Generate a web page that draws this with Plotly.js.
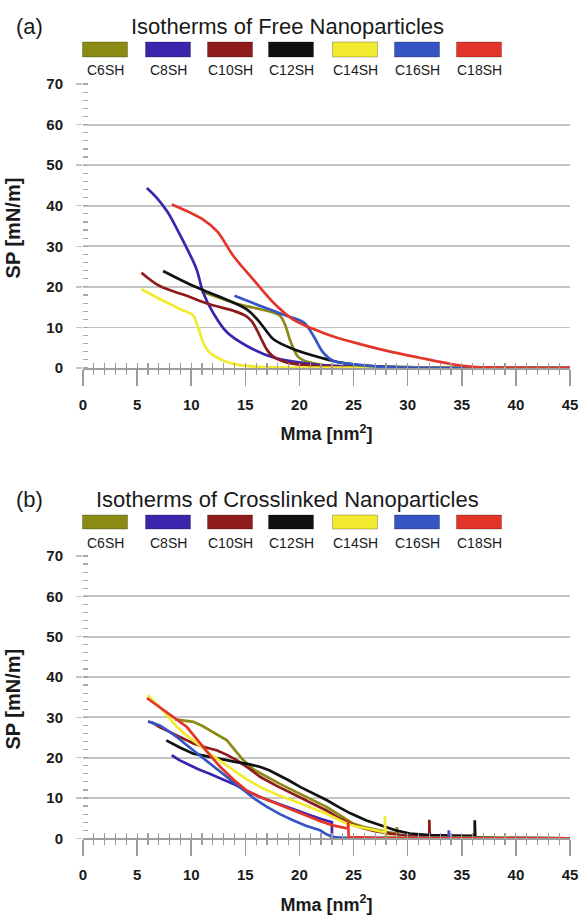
<!DOCTYPE html>
<html>
<head>
<meta charset="utf-8">
<script src="https://cdn.plot.ly/plotly-3.0.1.min.js"></script>
<style>html,body{margin:0;padding:0;background:#fff;}#chart{width:583px;height:919px;}</style>
</head>
<body>
<div id="chart"></div>
<script>
// ---------- DATA ----------
const seriesNames = ["C6SH", "C8SH", "C10SH", "C12SH", "C14SH", "C16SH", "C18SH"];
const seriesColors = ["#8a8a14", "#3b24ae", "#8e1c1c", "#111111", "#f2ea2e", "#3555c4", "#e4352b"];
const xTickVals = [0, 5, 10, 15, 20, 25, 30, 35, 40, 45];
const yTickVals = [0, 10, 20, 30, 40, 50, 60, 70];
const yGridVals = [10, 20, 30, 40, 50, 60];

// (a) Free nanoparticles
const freeC6x  = [11.0, 12.5, 13.9, 15.2, 16.4, 17.4, 18.2, 18.7, 19.1, 19.5, 19.8, 20.3, 20.9, 22, 24, 30, 45];
const freeC6y  = [18.8, 17.4, 16.1, 15.2, 14.5, 13.8, 12.9, 10.5, 7.1, 4.5, 3.0, 2.0, 1.4, 0.8, 0.4, 0.1, 0];
const freeC8x  = [5.9, 6.8, 7.8, 8.7, 9.6, 10.5, 11.1, 12.0, 13.3, 15.1, 17.6, 20.0, 22, 25, 30, 45];
const freeC8y  = [44.4, 42.0, 38.5, 34.2, 29.5, 24.3, 18.6, 13.7, 8.8, 5.5, 2.6, 1.4, 0.7, 0.3, 0.1, 0];
const freeC10x = [5.4, 7.1, 9.6, 11.7, 13.9, 15.0, 15.6, 16.1, 16.5, 17.0, 17.5, 18.8, 20.7, 23, 28, 45];
const freeC10y = [23.5, 20.2, 17.8, 15.7, 14.1, 12.9, 11.5, 9.2, 7.0, 4.5, 3.0, 1.4, 0.7, 0.3, 0.1, 0];
const freeC12x = [7.4, 10.2, 12.4, 15.1, 16.1, 16.9, 17.6, 19.4, 21.9, 24.1, 26, 30, 45];
const freeC12y = [23.9, 20.2, 17.8, 14.5, 12.0, 9.3, 7.1, 4.7, 2.6, 1.2, 0.6, 0.2, 0];
const freeC14x = [5.4, 7.1, 9.0, 10.2, 10.5, 10.7, 11.1, 11.7, 13.0, 14.5, 16.4, 20, 45];
const freeC14y = [19.4, 17.0, 14.5, 12.9, 11.0, 9.6, 6.3, 3.8, 1.8, 0.7, 0.3, 0.1, 0];
const freeC16x = [14.0, 16.4, 18.8, 20.4, 21.3, 22.2, 23.1, 24.7, 27, 30, 45];
const freeC16y = [17.8, 15.3, 12.9, 11.2, 7.9, 3.8, 1.8, 1.0, 0.4, 0.1, 0];
const freeC18x = [8.2, 11.1, 12.4, 13.9, 15.7, 17.6, 19.4, 21.3, 23.4, 25.6, 28, 31, 34, 36, 38, 45];
const freeC18y = [40.3, 36.6, 33.7, 27.6, 21.9, 16.1, 12.0, 9.6, 7.5, 5.9, 4.3, 2.6, 1.0, 0.3, 0.1, 0];

// (b) Crosslinked nanoparticles
const crossC6x  = [8.5, 9.3, 10.2, 11.0, 11.7, 12.5, 13.3, 14.0, 14.8, 15.8, 17.0, 18.2, 19.4, 21.0, 22.5, 23.8, 25.0, 26.0, 27.0, 28.0, 29.0, 29.0, 29.05, 30, 31, 45];
const crossC6y  = [29.5, 29.3, 28.9, 27.9, 26.8, 25.7, 24.3, 22.0, 19.4, 17.0, 15.2, 13.5, 11.9, 9.8, 7.8, 5.6, 3.6, 2.8, 2.2, 1.6, 1.2, 2.8, 0.6, 0.4, 0.2, 0];
const crossC8x  = [8.2, 8.9, 9.6, 10.6, 11.7, 12.8, 13.9, 15.1, 16.4, 17.6, 18.8, 19.9, 21.0, 22.0, 23.0, 23.0, 25, 45];
const crossC8y  = [20.6, 19.4, 18.5, 17.2, 16.0, 14.8, 13.5, 11.8, 10.2, 9.0, 7.8, 6.7, 5.7, 4.8, 4.0, 0, 0, 0];
const crossC10x = [6.3, 7.1, 8.0, 9.1, 10.2, 11.3, 12.4, 13.3, 14.2, 15.3, 16.4, 17.9, 19.4, 21.0, 22.5, 23.6, 24.7, 25.8, 27, 28.5, 30, 32, 32, 32.05, 35, 45];
const crossC10y = [28.9, 27.5, 26.4, 24.9, 23.5, 22.6, 21.8, 20.7, 19.4, 17.4, 15.2, 13.0, 11.0, 8.9, 6.9, 5.1, 3.6, 2.6, 1.8, 1.1, 0.6, 0.3, 4.6, 0.3, 0.1, 0];
const crossC12x = [7.7, 8.9, 10.2, 11.3, 12.4, 13.3, 14.2, 15.3, 16.4, 17.2, 17.9, 19.0, 20.1, 21.3, 22.5, 23.6, 24.7, 26.2, 27.8, 29.0, 30.2, 32, 34, 36.2, 36.2, 36.25, 38, 45];
const crossC12y = [24.3, 22.6, 21.0, 20.4, 19.8, 19.3, 18.9, 18.4, 17.7, 16.9, 16.0, 14.4, 12.7, 11.1, 9.5, 7.8, 6.2, 4.4, 2.9, 1.9, 1.2, 0.8, 0.7, 0.6, 4.5, 0.3, 0.1, 0];
const crossC14x = [6.0, 6.5, 7.1, 7.9, 8.7, 9.4, 10.2, 11.0, 11.7, 12.8, 13.9, 15.1, 16.4, 17.9, 19.4, 21.0, 22.5, 23.5, 24.4, 25.2, 26, 27.0, 27.9, 27.9, 27.95, 30, 45];
const crossC14y = [35.5, 34.0, 32.6, 30.0, 27.6, 25.9, 24.3, 22.6, 21.0, 18.9, 16.9, 14.7, 12.7, 10.9, 9.4, 7.7, 6.1, 4.8, 3.6, 3.0, 2.6, 2.0, 1.5, 5.5, 0.5, 0.2, 0];
const crossC16x = [6.0, 6.5, 7.1, 7.9, 8.7, 9.4, 10.2, 11.0, 11.7, 12.5, 13.3, 14.0, 14.8, 15.9, 17.0, 18.2, 19.4, 20.6, 21.9, 22.5, 23.1, 24, 26, 33.8, 33.8, 33.85, 36, 45];
const crossC16y = [29.0, 28.6, 28.0, 26.6, 25.1, 23.5, 21.8, 20.1, 18.5, 16.8, 15.2, 13.5, 11.9, 9.7, 7.8, 6.0, 4.5, 3.1, 2.0, 1.0, 0.3, 0.15, 0.1, 0.1, 2.0, 0.1, 0.05, 0];
const crossC18x = [5.9, 6.9, 8.0, 8.8, 9.6, 10.3, 11.1, 11.9, 12.7, 13.9, 15.1, 16.5, 17.9, 19.4, 21.0, 22.0, 23.1, 24.5, 24.5, 24.55, 27, 45];
const crossC18y = [34.8, 32.9, 30.9, 29.2, 27.6, 25.2, 22.7, 20.1, 17.7, 14.6, 11.9, 10.1, 8.6, 6.9, 5.3, 4.2, 3.2, 2.4, 4.5, 0.3, 0.1, 0];

const freeX  = [freeC6x, freeC8x, freeC10x, freeC12x, freeC14x, freeC16x, freeC18x];
const freeY  = [freeC6y, freeC8y, freeC10y, freeC12y, freeC14y, freeC16y, freeC18y];
const crossX = [crossC6x, crossC8x, crossC10x, crossC12x, crossC14x, crossC16x, crossC18x];
const crossY = [crossC6y, crossC8y, crossC10y, crossC12y, crossC14y, crossC16y, crossC18y];

// ---------- LAYOUT HELPERS ----------
const W = 583, H = 919;
const fx = p => p / W;
const fy = p => 1 - p / H;
const FONT = "Liberation Sans, Arial, Helvetica, sans-serif";
const AXC = "#9c9c9c";

const traces = [];
freeX.forEach((xs, i) => traces.push({
  x: xs, y: freeY[i], name: seriesNames[i], xaxis: "x", yaxis: "y", mode: "lines",
  line: {color: seriesColors[i], width: 2.7, shape: "spline", smoothing: 1}, showlegend: false
}));
crossX.forEach((xs, i) => traces.push({
  x: xs, y: crossY[i], name: seriesNames[i], xaxis: "x2", yaxis: "y2", mode: "lines",
  line: {color: seriesColors[i], width: 2.7, shape: "linear"}, showlegend: false
}));
// empty helper traces that only carry the overlay axes (grid lines / crossing ticks)
traces.push({x: [], y: [], xaxis: "x3", yaxis: "y3", showlegend: false, hoverinfo: "skip"});
traces.push({x: [], y: [], xaxis: "x4", yaxis: "y4", showlegend: false, hoverinfo: "skip"});

function mainX(posPx) {
  return {
    domain: [fx(83), fx(570)], range: [0, 45], autorange: false,
    anchor: "free", position: fy(posPx),
    tickvals: xTickVals, ticks: "outside", ticklen: 16, tickwidth: 1.5, tickcolor: AXC,
    showline: true, linecolor: AXC, linewidth: 1.5, showgrid: false, zeroline: false,
    minor: {dtick: 1, ticks: "outside", ticklen: 5, tickwidth: 1.2, tickcolor: AXC, showgrid: false},
    tickfont: {family: FONT, size: 15, color: "#1a1a1a", weight: "bold"},
    ticklabelstandoff: 6,
    title: {text: "Mma [nm<sup>2</sup>]", font: {family: FONT, size: 18, color: "#1a1a1a", weight: "bold"}, standoff: 16}
  };
}
function overlayX(over, posPx) {
  return {
    overlaying: over, range: [0, 45], autorange: false, anchor: "free", position: fy(posPx),
    dtick: 1, tick0: 0, ticks: "inside", ticklen: 5, tickwidth: 1.2, tickcolor: AXC,
    showticklabels: false, showgrid: false, zeroline: false, showline: false
  };
}
function mainY(domPx, anchor) {
  return {
    domain: [fy(domPx[1]), fy(domPx[0])], range: [-1.5, 70.5], autorange: false, anchor: anchor,
    tickvals: yTickVals, ticks: "outside", ticklen: 6, tickwidth: 1.5, tickcolor: "#c4c4c4",
    showgrid: false, zeroline: false, showline: false,
    minor: {dtick: 2, tick0: 0, ticks: "inside", ticklen: 5, tickwidth: 1.2, tickcolor: "#a8a8a8", showgrid: false},
    tickfont: {family: FONT, size: 15, color: "#1a1a1a", weight: "bold"},
    ticklabelstandoff: 10,
    title: {text: "SP [mN/m]", font: {family: FONT, size: 20, color: "#1a1a1a", weight: "bold"}, standoff: 20}
  };
}
function overlayY(over, anchor) {
  return {
    overlaying: over, anchor: anchor, range: [-1.5, 70.5], autorange: false,
    tickvals: yGridVals, ticks: "", showticklabels: false,
    showgrid: true, gridcolor: "#c4c4c4", gridwidth: 1.8, zeroline: false, showline: false
  };
}

const layout = {
  width: W, height: H, autosize: false,
  margin: {l: 0, r: 0, t: 0, b: 0, pad: 0},
  paper_bgcolor: "#ffffff", plot_bgcolor: "rgba(0,0,0,0)",
  font: {family: FONT, color: "#1a1a1a"},
  showlegend: false,
  xaxis: mainX(368),
  yaxis: mainY([82.0, 374.1], "x"),
  xaxis2: mainX(838.3),
  yaxis2: mainY([554.0, 844.4], "x2"),
  xaxis3: overlayX("x", 368),
  yaxis3: overlayY("y", "x3"),
  xaxis4: overlayX("x2", 838.3),
  yaxis4: overlayY("y2", "x4"),
  shapes: [], annotations: []
};

// Titles, panel labels and colour key
const panelTitles = ["Isotherms of Free Nanoparticles", "Isotherms of Crosslinked Nanoparticles"];
const panelLabels = ["(a)", "(b)"];
const titleY = [26, 499];
const swTop = [42, 515], swBot = [57, 529], labY = [70, 543];
const swCenters = [105, 168, 230, 291, 355, 417, 479];
for (let p = 0; p < 2; p++) {
  layout.annotations.push({text: panelTitles[p], xref: "paper", yref: "paper", x: fx(287), y: fy(titleY[p]),
    xanchor: "center", yanchor: "middle", showarrow: false, font: {family: FONT, size: 22, color: "#1a1a1a"}});
  layout.annotations.push({text: panelLabels[p], xref: "paper", yref: "paper", x: fx(14), y: fy(titleY[p]),
    xanchor: "left", yanchor: "middle", showarrow: false, font: {family: FONT, size: 22, color: "#1a1a1a"}});
  seriesNames.forEach((nm, i) => {
    layout.shapes.push({type: "rect", xref: "paper", yref: "paper",
      x0: fx(swCenters[i] - 22.5), x1: fx(swCenters[i] + 22.5), y0: fy(swBot[p]), y1: fy(swTop[p]),
      fillcolor: seriesColors[i], line: {color: "rgba(0,0,0,0.25)", width: 1}});
    layout.annotations.push({text: nm, xref: "paper", yref: "paper", x: fx(swCenters[i]), y: fy(labY[p]),
      xanchor: "center", yanchor: "middle", showarrow: false, font: {family: FONT, size: 14, color: "#1a1a1a"}});
  });
}

Plotly.newPlot("chart", traces, layout, {staticPlot: true, displayModeBar: false});
</script>
</body>
</html>
